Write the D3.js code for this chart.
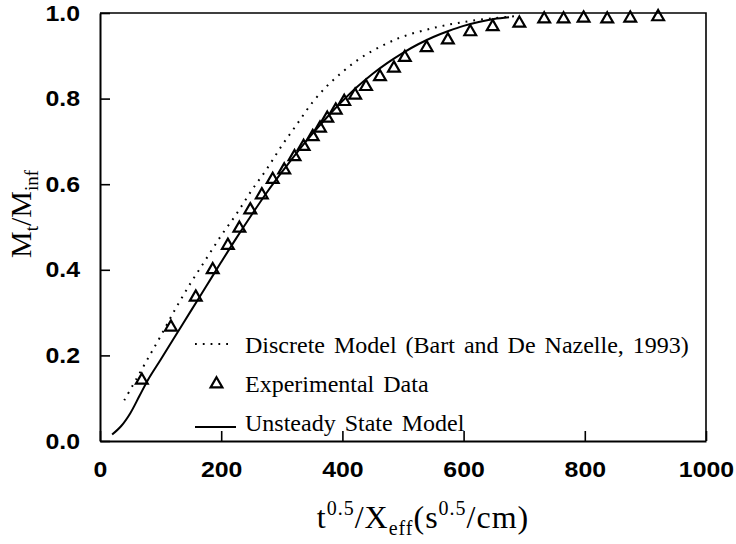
<!DOCTYPE html>
<html><head><meta charset="utf-8">
<script src="https://cdn.jsdelivr.net/npm/d3@7"></script>
<style>body{margin:0;background:#fff;}svg{display:block;}</style>
</head><body>
<script>
// ---- data ----
const expX = [69,117,158,186,211,230,248,267,285,304,321,336,351,363,375,389,403,421,439,462,485,503,539,574,611,648,692,733,765,798,837,875,921];
const expY = [0.142,0.266,0.336,0.400,0.457,0.497,0.540,0.575,0.611,0.633,0.664,0.688,0.711,0.731,0.754,0.773,0.793,0.808,0.828,0.851,0.871,0.896,0.919,0.937,0.956,0.968,0.976,0.986,0.986,0.988,0.986,0.988,0.991];
const unsteadyX = [20,35,50,65,80,100,125,150,175,200,225,250,275,300,325,350,375,400,425,450,475,500,525,550,575,600,625,650,675,700];
const unsteadyY = [0.015,0.035,0.065,0.105,0.145,0.190,0.247,0.304,0.361,0.418,0.474,0.528,0.580,0.628,0.674,0.717,0.757,0.794,0.828,0.858,0.884,0.907,0.927,0.944,0.958,0.970,0.979,0.986,0.990];
const discreteX = [40,60,80,100,125,150,175,200,225,250,275,300,325,350,375,400,425,450,475,500,550,600,650,690];
const discreteY = [0.095,0.145,0.195,0.245,0.310,0.370,0.425,0.480,0.530,0.585,0.635,0.690,0.740,0.790,0.830,0.862,0.890,0.912,0.930,0.945,0.965,0.979,0.988,0.993];
const xTicks = [0,200,400,600,800,1000];
const yTicks = [0,0.2,0.4,0.6,0.8,1.0];
const legendLabels = ["Discrete Model (Bart and De Nazelle, 1993)","Experimental Data","Unsteady State Model"];

// ---- layout ----
const W = 736, H = 544;
const L = 100, R = 706, T = 13, B = 441;
const svg = d3.select("body").append("svg").attr("width", W).attr("height", H);
const x = d3.scaleLinear().domain([0,1000]).range([L,R]);
const y = d3.scaleLinear().domain([0,1]).range([B,T]);

const sans = "'Liberation Sans', Arial, Helvetica, sans-serif";
const serif = "'Liberation Serif', 'Times New Roman', Times, serif";

// frame top/right
svg.append("path").attr("d", `M${L},${T}H${R}V${B}`).attr("fill","none").attr("stroke","#000").attr("stroke-width",1.6);

// axes
const xAxis = d3.axisBottom(x).tickValues(xTicks).tickSizeInner(-10).tickSizeOuter(0).tickPadding(20).tickFormat(d3.format("d"));
const gx = svg.append("g").attr("transform",`translate(0,${B})`).call(xAxis);
const yAxis = d3.axisLeft(y).tickValues(yTicks).tickSizeInner(-10).tickSizeOuter(0).tickPadding(20).tickFormat(d3.format(".1f"));
const gy = svg.append("g").attr("transform",`translate(${L},0)`).call(yAxis);
[gx,gy].forEach(g=>{
  g.select(".domain").attr("stroke","#000").attr("stroke-width",2);
  g.selectAll(".tick line").attr("stroke","#000").attr("stroke-width",1.6);
  g.selectAll(".tick text").attr("fill","#000").attr("font-family",sans).attr("font-size",22).attr("font-weight","bold")
    .each(function(){ const w=this.getComputedTextLength(); d3.select(this).attr("textLength",w*1.13).attr("lengthAdjust","spacingAndGlyphs"); });
});

// curves
const line = d3.line().x(d=>x(d[0])).y(d=>y(d[1])).curve(d3.curveCatmullRom.alpha(0.5));
svg.append("path").datum(discreteX.map((v,i)=>[v,discreteY[i]])).attr("d",line)
  .attr("fill","none").attr("stroke","#000").attr("stroke-width",2).attr("stroke-dasharray","1.8,6");
svg.append("path").datum(unsteadyX.map((v,i)=>[v,unsteadyY[i]])).attr("d",line)
  .attr("fill","none").attr("stroke","#000").attr("stroke-width",2);

// points
const tri = d3.symbol().type(d3.symbolTriangle).size(60);
svg.append("g").selectAll("path").data(expX.map((v,i)=>[v,expY[i]])).join("path")
  .attr("d",tri).attr("transform",d=>`translate(${x(d[0])},${y(d[1])})`)
  .attr("fill","none").attr("stroke","#000").attr("stroke-width",2.2);

// legend
const lg = svg.append("g");
const lx0 = 195, lx1 = 234, ltx = 245;
const rows = [353, 392, 431];
lg.append("line").attr("x1",lx0).attr("x2",lx1-3).attr("y1",rows[0]-9).attr("y2",rows[0]-9)
  .attr("stroke","#000").attr("stroke-width",2).attr("stroke-dasharray","1.8,6");
lg.append("path").attr("d",tri).attr("transform",`translate(${(lx0+lx1)/2+2},${rows[1]-8})`)
  .attr("fill","none").attr("stroke","#000").attr("stroke-width",2.2);
lg.append("line").attr("x1",lx0).attr("x2",lx1+2).attr("y1",rows[2]-4).attr("y2",rows[2]-4)
  .attr("stroke","#000").attr("stroke-width",2);
lg.selectAll("text").data(legendLabels).join("text")
  .attr("x",ltx).attr("y",(d,i)=>rows[i]).text(d=>d)
  .attr("font-family",serif).attr("font-size",24).attr("word-spacing",3).attr("fill","#000");

// axis titles
const xt = svg.append("text").attr("x",423).attr("y",528).attr("text-anchor","middle")
  .attr("font-family",serif).attr("font-size",32).attr("letter-spacing",1).attr("fill","#000");
xt.append("tspan").text("t");
xt.append("tspan").attr("dy",-13).attr("font-size",20).text("0.5");
xt.append("tspan").attr("dy",13).text("/X");
xt.append("tspan").attr("dy",7).attr("font-size",20).text("eff");
xt.append("tspan").attr("dy",-7).text("(s");
xt.append("tspan").attr("dy",-13).attr("font-size",20).text("0.5");
xt.append("tspan").attr("dy",13).text("/cm)");

const yt = svg.append("text").attr("transform","translate(31,214) rotate(-90)").attr("text-anchor","middle")
  .attr("font-family",serif).attr("font-size",30).attr("fill","#000");
yt.append("tspan").text("M");
yt.append("tspan").attr("dy",7).attr("font-size",19).text("t");
yt.append("tspan").attr("dy",-7).text("/M");
yt.append("tspan").attr("dy",7).attr("font-size",19).text("inf");
</script>
</body></html>
